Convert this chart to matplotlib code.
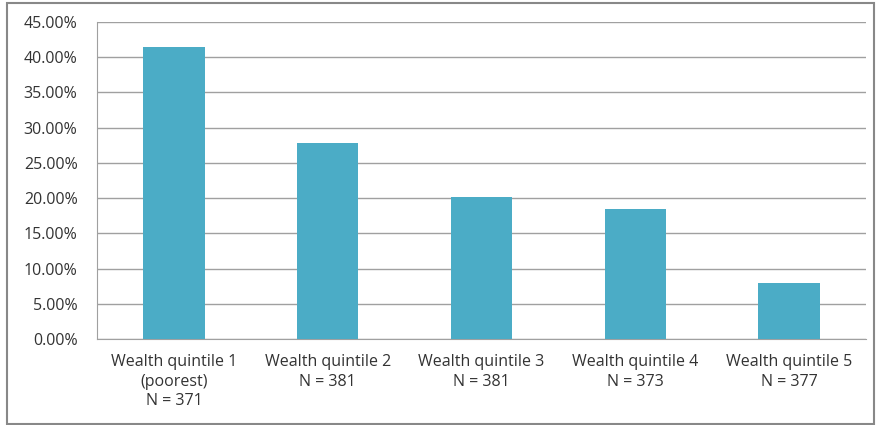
import matplotlib.pyplot as plt
from matplotlib.patches import Rectangle

plt.rcParams['font.family'] = ['Open Sans', 'DejaVu Sans']

categories = ["Wealth quintile 1\n(poorest)\nN = 371", "Wealth quintile 2\nN = 381",
              "Wealth quintile 3\nN = 381", "Wealth quintile 4\nN = 373",
              "Wealth quintile 5\nN = 377"]
values = [41.5, 27.8, 20.2, 18.5, 7.95]
yticks = [0, 5, 10, 15, 20, 25, 30, 35, 40, 45]

fig = plt.figure(figsize=(8.76, 4.25), dpi=100)
ax = fig.add_axes([97/876, 1-339/425, (866-97)/876, (339-22)/425])

x = range(len(values))
ax.bar(x, values, width=0.4, color='#4BACC6', zorder=3)

ax.set_xlim(-0.5, len(values)-0.5)
ax.set_ylim(0, 45)
ax.set_yticks(yticks)
ax.set_yticklabels(["%.2f%%" % v for v in yticks], fontsize=11.5, color='#333333')
ax.set_xticks(list(x))
ax.set_xticklabels(categories, fontsize=11.5, color='#333333', linespacing=1.3)
ax.tick_params(length=0)
ax.tick_params(axis='x', pad=11)
ax.tick_params(axis='y', pad=14)

ax.grid(axis='y', color='#a0a0a0', linewidth=1, zorder=0)
for s in ['top', 'right']:
    ax.spines[s].set_visible(False)
ax.spines['left'].set_color('#a0a0a0')
ax.spines['bottom'].set_color('#a0a0a0')

# outer frame
fig.patches.append(Rectangle((7/876, 1/425), 867/876, 421/425, transform=fig.transFigure,
                             fill=False, edgecolor='#888888', linewidth=1.5))

fig.savefig('out.png', dpi=100)
